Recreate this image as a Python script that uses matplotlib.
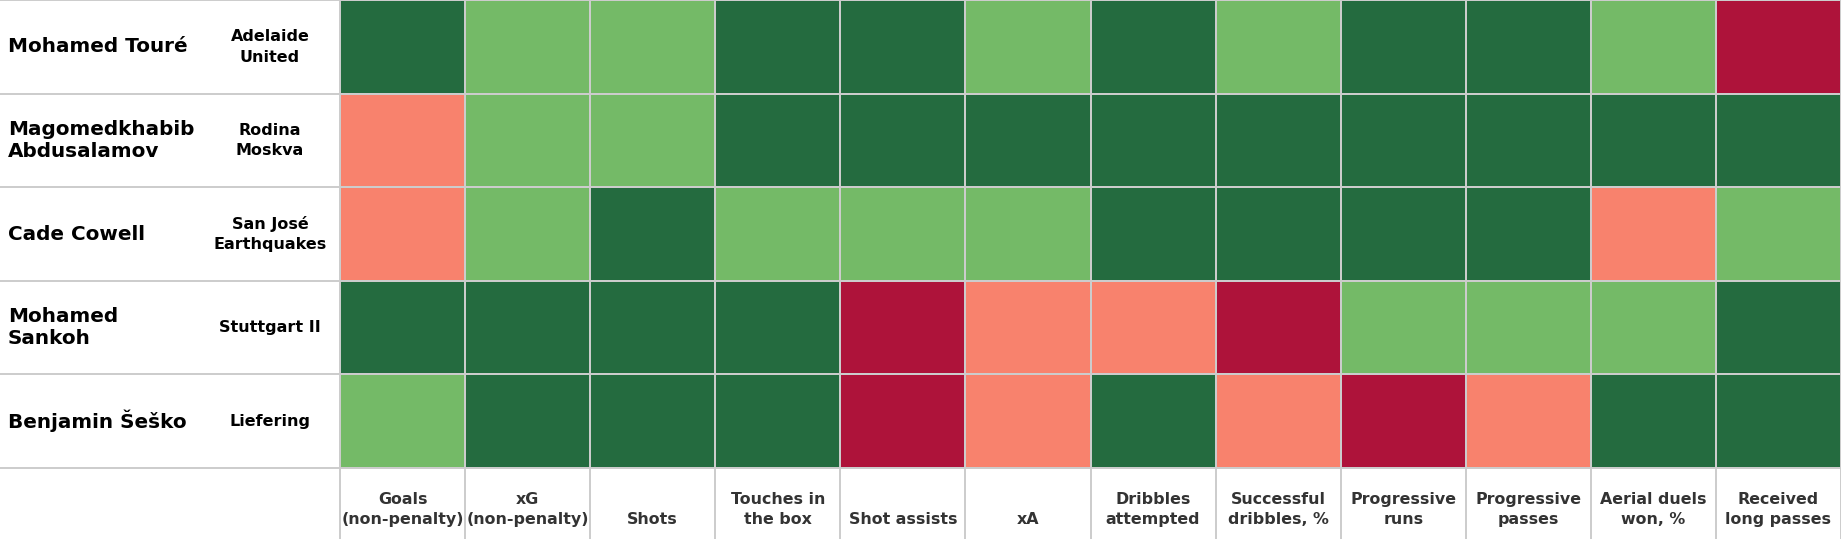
import matplotlib
matplotlib.use("Agg")
import matplotlib.pyplot as plt
import numpy as np
from matplotlib.colors import ListedColormap, BoundaryNorm

players = ["Mohamed Touré", "Magomedkhabib\nAbdusalamov", "Cade Cowell",
           "Mohamed\nSankoh", "Benjamin Šeško"]
teams = ["Adelaide\nUnited", "Rodina\nMoskva", "San José\nEarthquakes",
         "Stuttgart II", "Liefering"]
metrics = ["Goals\n(non-penalty)", "xG\n(non-penalty)", "Shots", "Touches in\nthe box",
           "Shot assists", "xA", "Dribbles\nattempted", "Successful\ndribbles, %",
           "Progressive\nruns", "Progressive\npasses", "Aerial duels\nwon, %",
           "Received\nlong passes"]

# tier per cell: 0 = bottom (crimson), 1 = below avg (salmon), 2 = good (light green), 3 = top (dark green)
toure       = [3, 2, 2, 3, 3, 2, 3, 2, 3, 3, 2, 0]
abdusalamov = [1, 2, 2, 3, 3, 3, 3, 3, 3, 3, 3, 3]
cowell      = [1, 2, 3, 2, 2, 2, 3, 3, 3, 3, 1, 2]
sankoh      = [3, 3, 3, 3, 0, 1, 1, 0, 2, 2, 2, 3]
sesko       = [2, 3, 3, 3, 0, 1, 3, 1, 0, 1, 3, 3]

tier_colors = ["#ae133a", "#f8826d", "#74ba67", "#246b3f"]
grid_color = "#cccccc"

W, H = 1841, 539
fig = plt.figure(figsize=(W / 100, H / 100), dpi=100)
ax = fig.add_axes([0, 0, 1, 1])

col_px = (W - 340) / 12.0
row_px = 468 / 5.0
left = -340 / col_px
bottom_extra = (H - 468) / row_px

data = np.array([toure, abdusalamov, cowell, sankoh, sesko])
cmap = ListedColormap(tier_colors)
norm = BoundaryNorm([-0.5, 0.5, 1.5, 2.5, 3.5], 4)
ax.pcolormesh(np.arange(13), np.arange(6), data, cmap=cmap, norm=norm,
              edgecolors=grid_color, linewidth=1.4)

ax.set_xlim(left, 12)
ax.set_ylim(5 + bottom_extra, 0)
ax.axis("off")

for y in range(6):
    ax.plot([left, 12], [y, y], color=grid_color, lw=1.4, clip_on=False, zorder=3)
for x in range(13):
    ax.plot([x, x], [5, 5 + bottom_extra], color=grid_color, lw=1.4, zorder=3)
ax.plot([12, 12], [0, 5], color=grid_color, lw=1.4, zorder=3)

name_x = left + 8 / col_px
team_x = left + 270 / col_px
for i, (p, t) in enumerate(zip(players, teams)):
    ax.text(name_x, i + 0.5, p, ha="left", va="center", fontsize=14.4,
            fontweight="bold", color="black", family="DejaVu Sans", linespacing=1.15)
    ax.text(team_x, i + 0.5, t, ha="center", va="center", fontsize=11.5,
            fontweight="bold", color="black", family="DejaVu Sans", linespacing=1.48)

label_y = 5 + (523.5 - 468) / row_px
for j, m in enumerate(metrics):
    ax.text(j + 0.5, label_y, m, ha="center", va="baseline", fontsize=11.4,
            fontweight="bold", color="#333333",
            family="DejaVu Sans", linespacing=1.36)

fig.savefig("out.png", dpi=100, facecolor="white")
